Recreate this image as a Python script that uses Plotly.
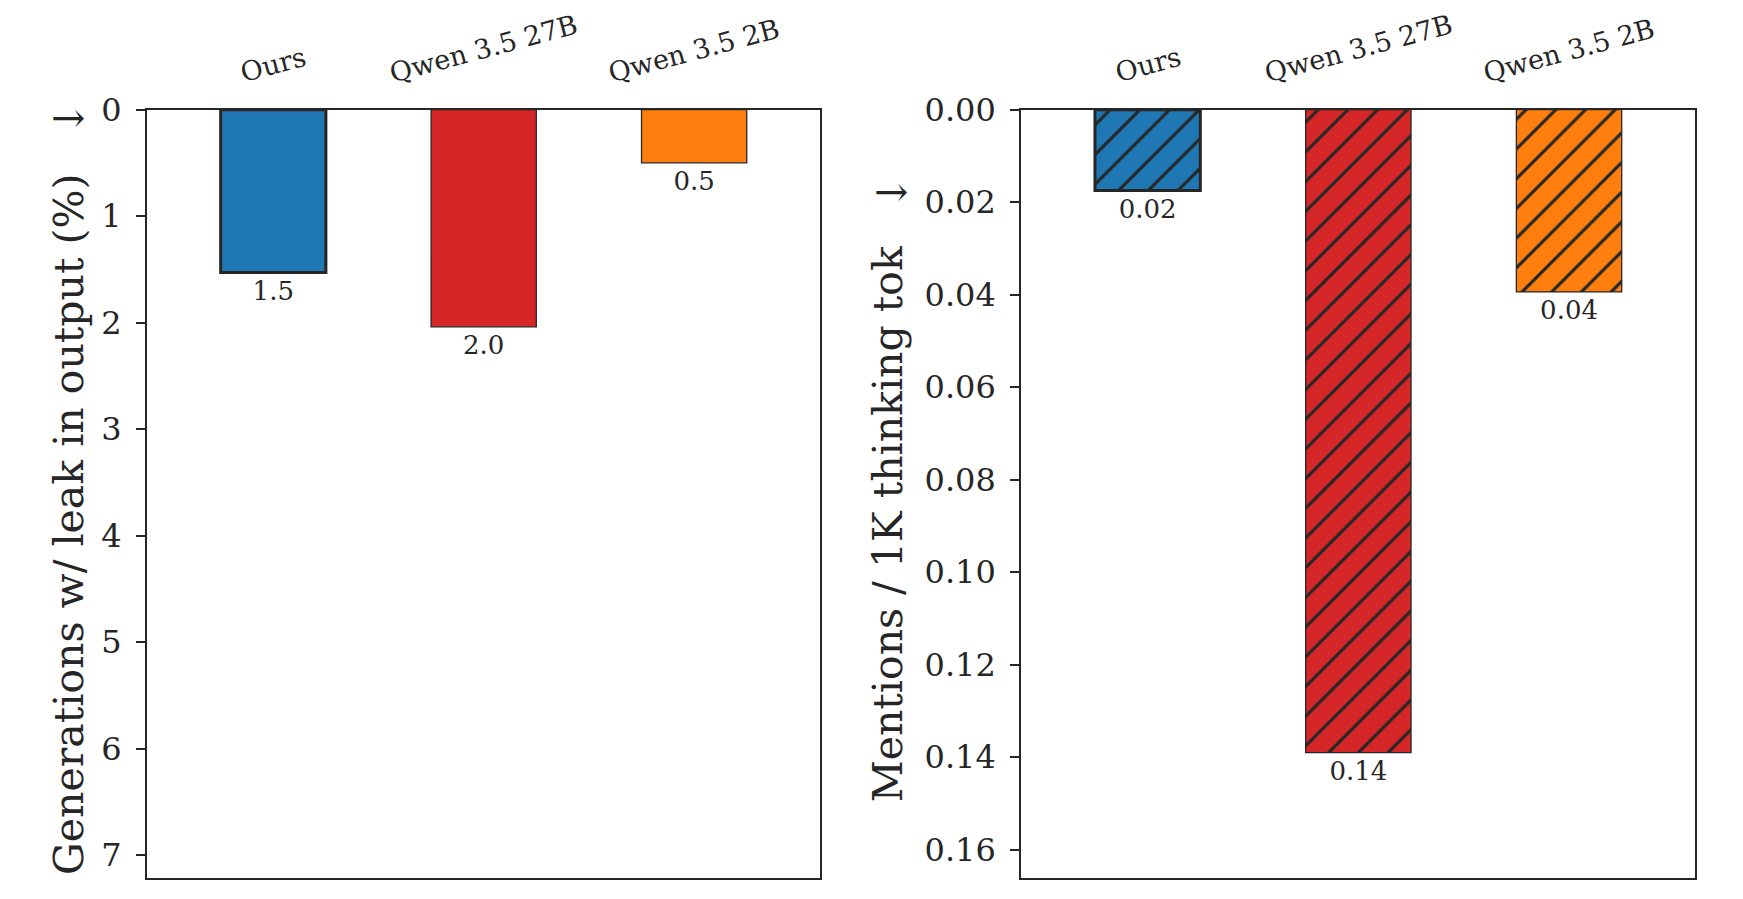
import plotly.graph_objects as go
from plotly.subplots import make_subplots

# models and the two metrics (lower is better)
models = ["Ours", "Qwen 3.5 27B", "Qwen 3.5 2B"]
leak_pct = [1.53, 2.04, 0.50]
mentions_per_1k = [0.0175, 0.139, 0.0394]

bar_colors = ["#1f77b4", "#d62728", "#ff7f0e"]
edge_widths = [3, 1.3, 1.3]
ink = "#262626"
font_family = "DejaVu Serif"

fig = make_subplots(rows=1, cols=2)

# one trace per bar so each hatched bar keeps its own fill colour
for i, m in enumerate(models):
    fig.add_trace(go.Bar(
        x=[m], y=[leak_pct[i]], width=0.5,
        marker=dict(color=bar_colors[i], line=dict(color=ink, width=edge_widths[i])),
        texttemplate="%{y:.1f}", textposition="outside",
        textfont=dict(size=26, color=ink, family=font_family),
        cliponaxis=False,
    ), row=1, col=1)

    fig.add_trace(go.Bar(
        x=[m], y=[mentions_per_1k[i]], width=0.5,
        marker=dict(
            color=bar_colors[i],
            line=dict(color=ink, width=edge_widths[i]),
            pattern=dict(shape="/", fgcolor=ink, fgopacity=1, size=21,
                         solidity=0.15, fillmode="overlay"),
        ),
        texttemplate="%{y:.2f}", textposition="outside",
        textfont=dict(size=26, color=ink, family=font_family),
        cliponaxis=False,
    ), row=1, col=2)

axis_common = dict(showline=True, linecolor=ink, linewidth=2, mirror=True,
                   showgrid=False, zeroline=False, automargin=False)

fig.update_xaxes(axis_common, side="top", ticks="", showticklabels=False,
                 range=[-0.6, 2.6])
fig.update_yaxes(axis_common, ticks="outside", ticklen=9, tickwidth=1.5, tickcolor=ink,
                 ticklabelstandoff=8, tickfont=dict(size=32, color=ink))

top = 0.8849
fig.update_xaxes(domain=[0.0805, 0.4704], row=1, col=1)
fig.update_xaxes(domain=[0.5867, 0.9771], row=1, col=2)
fig.update_yaxes(domain=[0.0142, top])

# the arrow is drawn unrotated as an annotation; a transparent copy keeps the spacing
spacer = "\u00a0\u00a0<span style='color:rgba(0,0,0,0)'>\u2192</span>"
fig.update_yaxes(range=[7.22, 0], dtick=1, row=1, col=1,
                 title=dict(text="Generations w/ leak in output (%)" + spacer,
                            font=dict(size=41, color=ink), standoff=5))
fig.update_yaxes(range=[0.1662, 0], dtick=0.02, tickformat=".2f", row=1, col=2,
                 title=dict(text="Mentions / 1K thinking tok" + spacer,
                            font=dict(size=41, color=ink), standoff=9))

for ax, ay in [(0.0345, 0.8754), (0.5112, 0.7916)]:
    fig.add_annotation(x=ax, y=ay, xref="paper", yref="paper", text="\u2192",
                       showarrow=False, xanchor="center", yanchor="middle",
                       font=dict(size=41, color=ink, family=font_family))

# rotated category labels centred over each bar, above the top spine
for xref in ["x", "x2"]:
    for m in models:
        fig.add_annotation(x=m, xref=xref, y=top, yref="paper", yshift=19,
                           yanchor="bottom", xanchor="center",
                           text=m, textangle=-15, showarrow=False,
                           font=dict(size=27, color=ink, family=font_family))

fig.update_layout(
    barmode="overlay",
    margin=dict(l=0, r=0, t=0, b=0),
    paper_bgcolor="white", plot_bgcolor="white",
    showlegend=False,
    font=dict(family=font_family, color=ink),
)

fig.write_html("out.html")
